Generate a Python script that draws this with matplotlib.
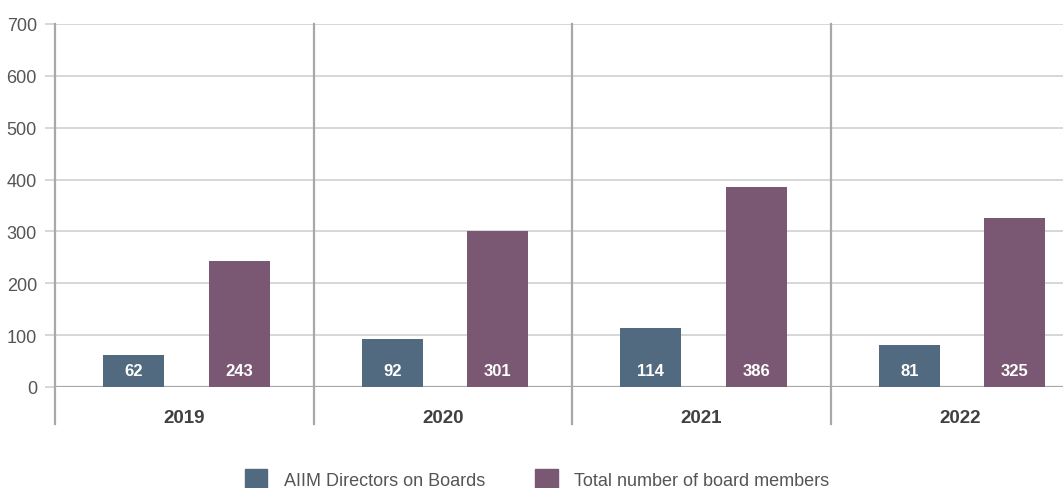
import matplotlib.pyplot as plt
from matplotlib.patches import Patch

plt.rcParams['font.family'] = ['Liberation Sans', 'DejaVu Sans']

# Data
years = ['2019', '2020', '2021', '2022']
aiim_directors = [62, 92, 114, 81]
total_members = [243, 301, 386, 325]
series_names = ['AIIM Directors on Boards', 'Total number of board members']
yticks = [0, 100, 200, 300, 400, 500, 600, 700]

blue = '#526a80'
purple = '#7a5873'

W, H = 1063, 489
fig = plt.figure(figsize=(W / 100, H / 100), dpi=100)
# axes: x from 55px to right edge, y from 25px (700) to 388px (0)
ax = fig.add_axes([55 / W, 1 - 388 / H, 1008 / W, 363 / H])

group_px = 258.5
ax.set_xlim(-0.5, -0.5 + 1008 / group_px)
ax.set_ylim(0, 700)

x = list(range(len(years)))
bw = 0.236
b1 = ax.bar([i - 0.195 for i in x], aiim_directors, width=bw, color=blue, zorder=3)
b2 = ax.bar([i + 0.213 for i in x], total_members, width=bw, color=purple, zorder=3)

# value labels inside bars near base
for bars, vals in ((b1, aiim_directors), (b2, total_members)):
    for rect, v in zip(bars, vals):
        ax.text(rect.get_x() + rect.get_width() / 2, 31, str(v),
                ha='center', va='center', color='white',
                fontsize=12, fontweight='bold', zorder=4)

# horizontal grid
for t in yticks[1:]:
    ax.axhline(t, color='#cdcdcd', lw=1.1, zorder=1)
ax.axhline(0, color='#a8a8a8', lw=1.6, zorder=2)

# group separators extend below the axis
for i in range(len(years) + 1):
    ax.axvline(i - 0.5, ymin=-0.102, ymax=1.0, color='#a8a8a8', lw=1.6,
               clip_on=False, zorder=2)

# year labels
for i, yr in enumerate(years):
    ax.text(i, -58, yr, ha='center', va='center', fontsize=13.5,
            fontweight='bold', color='#404040')

ax.set_yticks(yticks)
ax.set_yticklabels([str(t) for t in yticks], fontsize=13, color='#555555')
ax.tick_params(axis='y', length=7, width=1.1, color='#cdcdcd', pad=6)
ax.set_xticks([])
for s in ax.spines.values():
    s.set_visible(False)

handles = [Patch(color=blue), Patch(color=purple)]
fig.legend(handles, series_names, loc='lower center', ncol=2,
           bbox_to_anchor=(537 / W, -0.035), frameon=False,
           fontsize=13, labelcolor='#555555', handlelength=1.25,
           handleheight=1.25, handletextpad=0.9, columnspacing=2.8)

fig.savefig('out.png', dpi=100)
